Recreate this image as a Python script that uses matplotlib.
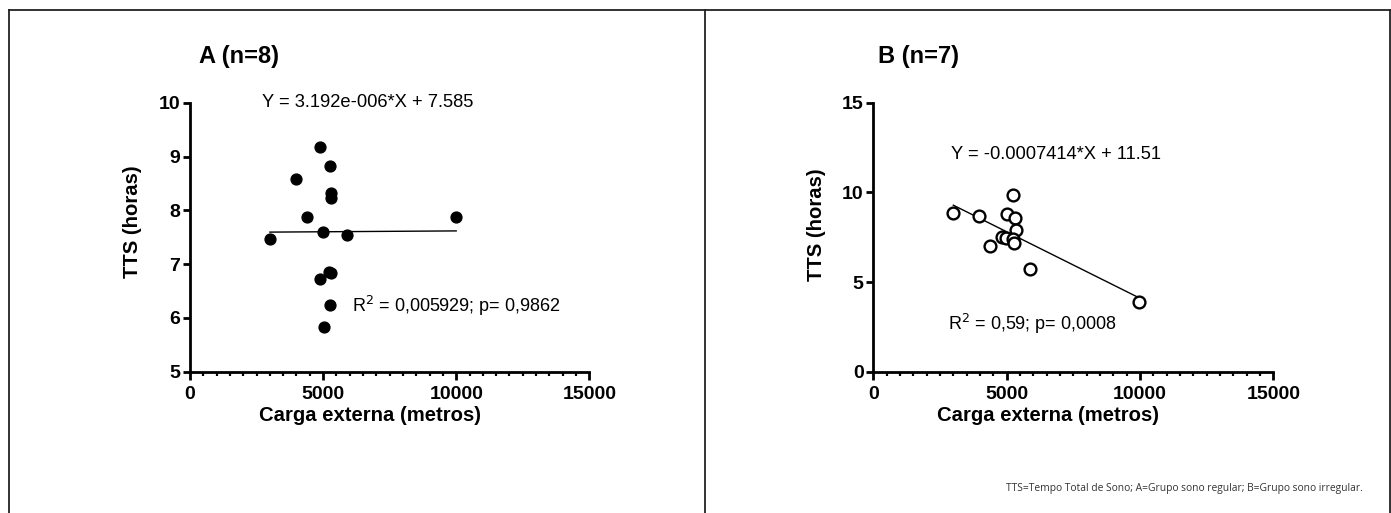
import numpy as np
import matplotlib
matplotlib.use("Agg")
import matplotlib.pyplot as plt
from matplotlib.lines import Line2D
from matplotlib.ticker import MultipleLocator

plt.rcParams["font.family"] = ["Liberation Sans", "DejaVu Sans"]

# ── Data ───────────────────────────────────────────────────────
a_x = [4900, 5250, 4000, 5300, 5290, 4400, 5000, 5900, 3000,
       5310, 5230, 4900, 5260, 5040, 10000]
a_y = [9.17, 8.83, 8.58, 8.33, 8.22, 7.88, 7.60, 7.55, 7.47,
       6.84, 6.86, 6.73, 6.24, 5.83, 7.87]
a_slope, a_icpt = 3.192e-6, 7.585

b_x = [3000, 3970, 5000, 5300, 5350, 4830, 4980, 5250, 5280,
       4380, 5880, 9970, 5230]
b_y = [8.85, 8.70, 8.80, 8.55, 7.90, 7.50, 7.45, 7.40, 7.20,
       7.02, 5.70, 3.90, 9.85]
b_slope, b_icpt = -0.0007414, 11.51

W, H = 1391, 513
fig = plt.figure(figsize=(W / 100, H / 100), dpi=100)


def px_axes(x0, x1, ytop, ybot):
    return fig.add_axes([x0 / W, 1 - ybot / H, (x1 - x0) / W, (ybot - ytop) / H])


def style(ax, ylim, ystep):
    ax.set_xlim(0, 15000)
    ax.set_ylim(*ylim)
    for s in ("top", "right"):
        ax.spines[s].set_visible(False)
    for s in ("left", "bottom"):
        ax.spines[s].set_linewidth(2.0)
    ax.xaxis.set_major_locator(MultipleLocator(5000))
    ax.xaxis.set_minor_locator(MultipleLocator(500))
    ax.yaxis.set_major_locator(MultipleLocator(ystep))
    ax.tick_params(axis="x", which="major", length=6, width=2.0, labelsize=14, pad=4)
    ax.tick_params(axis="x", which="minor", length=3, width=1.6)
    ax.tick_params(axis="y", which="major", length=5, width=2.0, labelsize=14, pad=2)
    for lab in ax.get_xticklabels() + ax.get_yticklabels():
        lab.set_fontweight("bold")
    ax.set_xlabel("Carga externa (metros)", fontsize=14.6, fontweight="bold", va="center")
    ax.set_ylabel("TTS (horas)", fontsize=14.6, fontweight="bold", va="center")


# ── Panel A ──
axA = px_axes(190, 589.3, 102.7, 371.7)
axA.plot(a_x, a_y, "o", color="black", ms=7.8, zorder=3, clip_on=False)
fx = np.array([min(a_x), max(a_x)])
axA.plot(fx, a_slope * fx + a_icpt, color="black", lw=1.0)
style(axA, (5, 10), 1)
axA.xaxis.set_label_coords(0.451, -0.161)
axA.yaxis.set_label_coords(-0.143, 0.556)
axA.text(199, H - 56.7, "A (n=8)", transform=None, fontsize=17, fontweight="bold",
         ha="left", va="center")
axA.text(2700, 10.0, "Y = 3.192e-006*X + 7.585", fontsize=13.2, ha="left", va="center")
axA.text(6100, 6.22, "R$^2$ = 0,005929; p= 0,9862", fontsize=13, ha="left", va="center")

# ── Panel B ──
axB = px_axes(873.3, 1273.3, 102.7, 371.7)
axB.plot(b_x, b_y, "o", mfc="white", mec="black", mew=1.7, ms=8.5, zorder=3,
         clip_on=False)
fx = np.array([min(b_x), max(b_x)])
axB.plot(fx, b_slope * fx + b_icpt, color="black", lw=1.0, zorder=2)
style(axB, (0, 15), 5)
axB.xaxis.set_label_coords(0.437, -0.161)
axB.yaxis.set_label_coords(-0.143, 0.545)
axB.text(878.3, H - 56.7, "B (n=7)", transform=None, fontsize=17, fontweight="bold",
         ha="left", va="center")
axB.text(2900, 12.09, "Y = -0.0007414*X + 11.51", fontsize=13.2, ha="left", va="center")
axB.text(2810, 2.65, "R$^2$ = 0,59; p= 0,0008", fontsize=13, ha="left", va="center")

fig.text(1363 / W, 1 - 489 / H,
         "TTS=Tempo Total de Sono; A=Grupo sono regular; B=Grupo sono irregular.",
         fontsize=7.4, ha="right", va="center", color="#333333",
         family=["Open Sans", "DejaVu Sans"])

# ── Panel borders ──
lc = "#222222"
fig.add_artist(Line2D([9 / W, 1390 / W], [1 - 10 / H, 1 - 10 / H], color=lc, lw=1.3))
fig.add_artist(Line2D([9 / W, 9 / W], [0, 1 - 10 / H], color=lc, lw=1.3))
fig.add_artist(Line2D([705 / W, 705 / W], [0, 1 - 10 / H], color=lc, lw=1.3))
fig.add_artist(Line2D([1390 / W, 1390 / W], [0, 1 - 10 / H], color=lc, lw=1.3))

fig.savefig("out.png", dpi=100)
